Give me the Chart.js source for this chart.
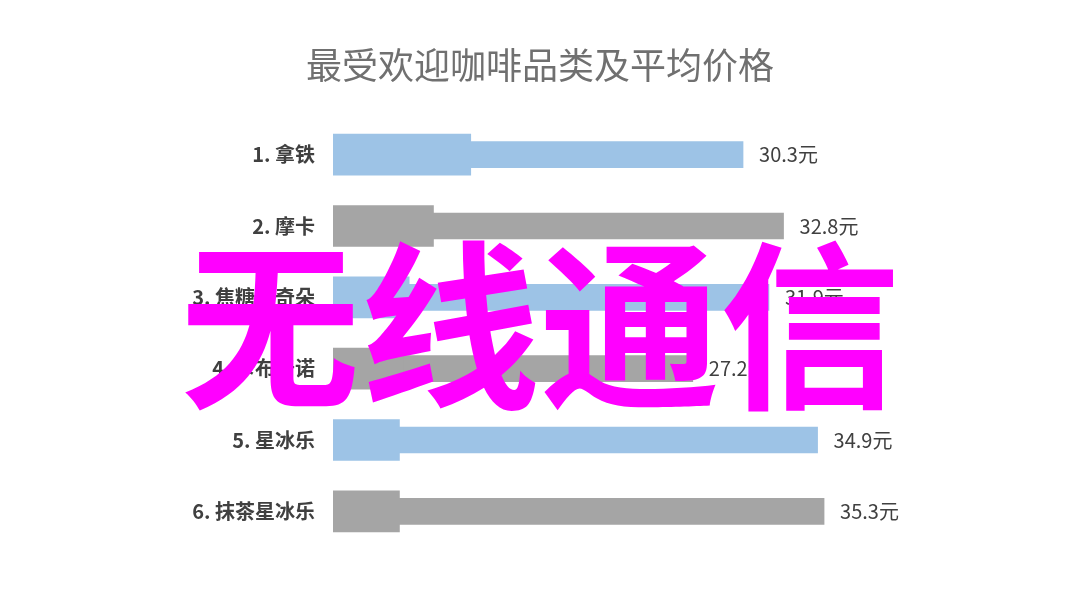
<!DOCTYPE html>
<html>
<head>
<meta charset="utf-8">
<script src="https://cdn.jsdelivr.net/npm/chart.js@4/dist/chart.umd.min.js"></script>
<style>
  html, body { margin: 0; padding: 0; background: #ffffff; }
  #wrap { position: relative; width: 1080px; height: 608px; }
  #overlay {
    position: absolute; left: 0; top: 226px; width: 1080px; text-align: center;
    font-family: "Noto Sans CJK SC", sans-serif; font-weight: 700;
    font-size: 180px; line-height: 1; color: #ff00ff;
    pointer-events: none;
  }
</style>
</head>
<body>
<div id="wrap">
  <canvas id="bar-chart" width="1080" height="608"></canvas>
  <div id="overlay">无线通信</div>
</div>
<script>
/* dados */
var titulo = '最受欢迎咖啡品类及平均价格';
var categorias = ["1. 拿铁", "2. 摩卡", "3. 焦糖玛奇朵", "4. 卡布奇诺", "5. 星冰乐", "6. 抹茶星冰乐"];
var precos = [30.3, 32.8, 31.9, 27.2, 34.9, 35.3];
var blocos = [13.5, 11.2, 9.7, 9.3, 9.1, 9.1];
var cores = ['#9dc3e6', '#a5a5a5', '#9dc3e6', '#a5a5a5', '#9dc3e6', '#a5a5a5'];

/* título centralizado na tela + rótulos de valor */
var textos = {
  id: 'textos',
  afterDraw: function (chart) {
    var ctx = chart.ctx;
    ctx.save();
    ctx.font = '36px "Noto Sans CJK SC", sans-serif';
    ctx.fillStyle = '#707070';
    ctx.textAlign = 'center';
    ctx.textBaseline = 'middle';
    ctx.fillText(titulo, chart.width / 2, 65);

    var meta = chart.getDatasetMeta(0);
    ctx.font = '20px "Noto Sans CJK SC", "Noto Sans", sans-serif';
    ctx.fillStyle = '#404040';
    ctx.textAlign = 'left';
    meta.data.forEach(function (bar, i) {
      ctx.fillText(precos[i] + '元', bar.x + 16, bar.y);
    });
    ctx.restore();
  }
};

var ctx = document.getElementById('bar-chart').getContext('2d');
var chart = new Chart(ctx, {
  type: 'bar',
  data: {
    labels: categorias,
    datasets: [{
      data: precos,
      backgroundColor: cores,
      barThickness: 26,
      order: 2
    }, {
      data: blocos,
      backgroundColor: cores,
      barThickness: 41,
      order: 1
    }]
  },
  options: {
    indexAxis: 'y',
    responsive: false,
    animation: false,
    grouped: false,
    layout: { padding: { top: 119, right: 183, bottom: 61, left: 0 } },
    plugins: {
      legend: { display: false },
      tooltip: { enabled: false },
      title: { display: false }
    },
    scales: {
      x: {
        display: false,
        min: 5,
        max: 39.8
      },
      y: {
        grid: { display: false, drawTicks: false },
        border: { display: false },
        ticks: {
          color: '#404040',
          padding: 18,
          font: { family: '"Noto Sans CJK SC", sans-serif', size: 20, weight: 'bold' }
        },
        afterFit: function (s) { s.width = 333; }
      }
    }
  },
  plugins: [textos]
});
</script>
</body>
</html>
